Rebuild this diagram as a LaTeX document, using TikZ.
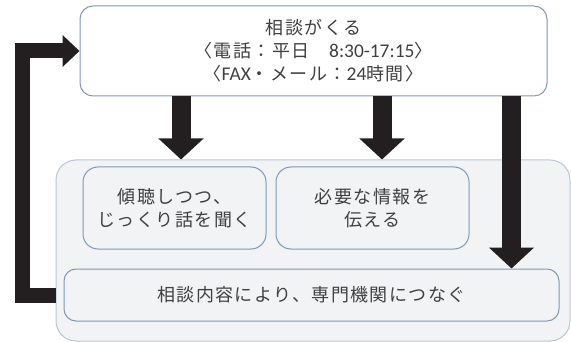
\documentclass[tikz,border=0pt]{standalone}
\usepackage{fontspec}
\usetikzlibrary{arrows.meta}
\newfontfamily\jp[LetterSpace=8]{Noto Sans CJK JP}
\newfontfamily\lat[Scale=1.08]{Carlito}
\definecolor{arrowc}{HTML}{231F20}
\definecolor{txt}{HTML}{404040}
\definecolor{bord}{HTML}{7F99BA}
\definecolor{bigbord}{HTML}{B9C6D6}
\definecolor{panel}{HTML}{F2F3F4}
\tikzset{
  box/.style={draw=bord, line width=0.75pt, text=txt, align=center, inner sep=0pt,
    font=\jp\fontsize{13.5}{17.25}\selectfont},
  topbox/.style={box, fill=white, rounded corners=9.75pt, minimum width=350.25pt, minimum height=67.5pt},
  panelbox/.style={draw=bigbord, line width=0.75pt, fill=panel, rounded corners=15pt,
    minimum width=385.5pt, minimum height=135.75pt, inner sep=0pt},
  innerbox/.style={box, fill=panel, rounded corners=11.25pt, minimum height=61.5pt},
  lowbox/.style={box, fill=panel, rounded corners=9pt, minimum width=371.25pt, minimum height=39pt},
  bigarrow/.style={draw=arrowc, line width=14.25pt, -{Triangle[length=15.75pt,width=33pt]}},
  looparrow/.style={draw=arrowc, line width=11.25pt, line join=miter,
    -{Triangle[length=12.75pt,width=23.25pt]}},
}
\begin{document}
\begin{tikzpicture}[x=0.75pt,y=-0.75pt]
\useasboundingbox (0,0) rectangle (571,342);
\node[panelbox] (big) at (313,250.5) {};
\node[topbox] (top) at (313.5,51) {相談がくる\\〈電話：平日　{\lat 8:30-17:15}〉\\〈{\lat FAX}・メール：{\lat 24}時間〉};
\node[innerbox, minimum width=137.25pt] (in1) at (174.5,208) {傾聴しつつ、\\じっくり話を聞く};
\node[innerbox, minimum width=144.75pt] (in2) at (372.5,208) {必要な情報を\\伝える};
\node[lowbox] (low) at (311.5,295) {相談内容により、専門機関につなぐ};
\coordinate (c1) at (181,0);
\coordinate (c2) at (382,0);
\coordinate (c3) at (511.5,0);
\draw[bigarrow] (top.south -| c1) -- (big.north -| c1);
\draw[bigarrow] (top.south -| c2) -- (big.north -| c2);
\draw[bigarrow] (top.south -| c3) -- (low.north -| c3);
\draw[looparrow] (big.west |- low.center) -- ++(-33.5,0) |- (top.west);
\end{tikzpicture}
\end{document}
